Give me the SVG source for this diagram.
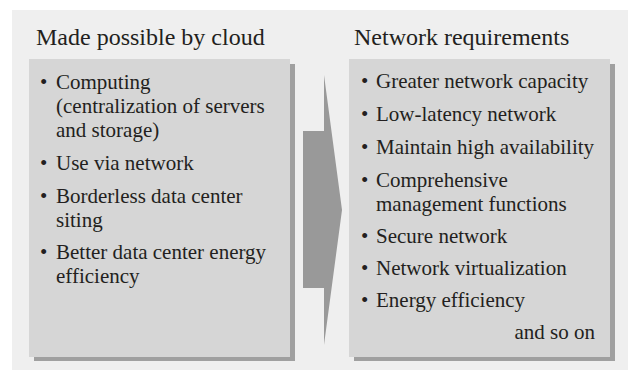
<svg xmlns="http://www.w3.org/2000/svg" width="628" height="370" viewBox="0 0 628 370">
<style>
  text { fill: #231f20; }
  .title { font-size: 24px; }
  .item { font-size: 21px; }
  .box { fill: #d6d6d6; }
  .shadow { fill: #a0a0a0; }
</style>
<rect x="0" y="0" width="628" height="370" fill="#ffffff"/>
<rect id="background" x="12" y="10" width="616" height="360" fill="#efefef"/>
<g font-family="'Liberation Serif', 'DejaVu Serif', serif">
<g id="left">
  <text class="title" x="36" y="45">Made possible by cloud</text>
  <rect class="shadow" x="34" y="64" width="261" height="297"/>
  <rect class="box" x="29" y="59" width="261" height="298"/>
  <text class="item"><tspan x="40" y="89">•</tspan><tspan x="56" y="89">Computing</tspan></text>
  <text class="item" x="56" y="113">(centralization of servers</text>
  <text class="item" x="56" y="137">and storage)</text>
  <text class="item"><tspan x="40" y="170">•</tspan><tspan x="56" y="170">Use via network</tspan></text>
  <text class="item"><tspan x="40" y="203">•</tspan><tspan x="56" y="203">Borderless data center</tspan></text>
  <text class="item" x="56" y="227">siting</text>
  <text class="item"><tspan x="40" y="259">•</tspan><tspan x="56" y="259">Better data center energy</tspan></text>
  <text class="item" x="56" y="283">efficiency</text>
</g>
<g id="connectors">
  <polygon points="303,131 324,131 324,75 342,210 324,345 324,288 303,288" fill="#999999"/>
</g>
<g id="right">
  <text class="title" x="354" y="45">Network requirements</text>
  <rect class="shadow" x="354" y="64" width="261" height="297"/>
  <rect class="box" x="349" y="59" width="261" height="298"/>
  <text class="item"><tspan x="361" y="88">•</tspan><tspan x="376" y="88">Greater network capacity</tspan></text>
  <text class="item"><tspan x="361" y="121">•</tspan><tspan x="376" y="121">Low-latency network</tspan></text>
  <text class="item"><tspan x="361" y="154">•</tspan><tspan x="376" y="154">Maintain high availability</tspan></text>
  <text class="item"><tspan x="361" y="187">•</tspan><tspan x="376" y="187">Comprehensive</tspan></text>
  <text class="item" x="376" y="211">management functions</text>
  <text class="item"><tspan x="361" y="243">•</tspan><tspan x="376" y="243">Secure network</tspan></text>
  <text class="item"><tspan x="361" y="275">•</tspan><tspan x="376" y="275">Network virtualization</tspan></text>
  <text class="item"><tspan x="361" y="307">•</tspan><tspan x="376" y="307">Energy efficiency</tspan></text>
  <text class="item" x="595" y="339" text-anchor="end">and so on</text>
</g>
</g>
</svg>
